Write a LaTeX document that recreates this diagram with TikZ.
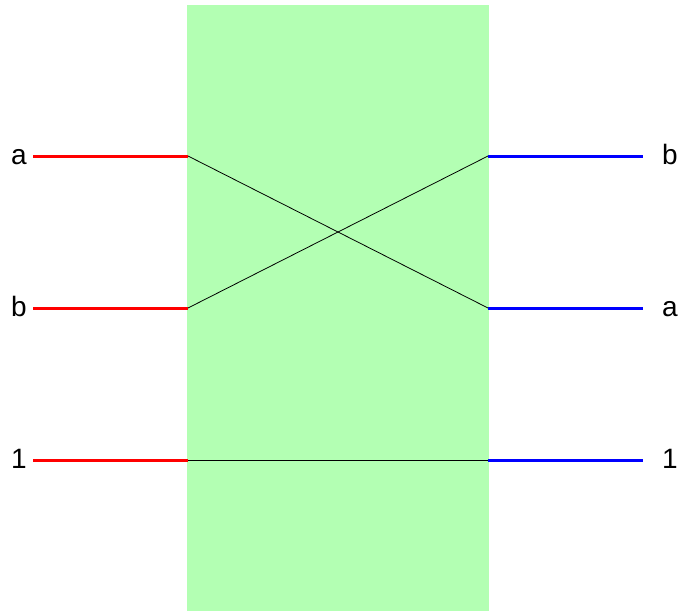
\documentclass[tikz,border=0pt]{standalone}
\usepackage{fontspec}
\setmainfont{Liberation Sans}
\definecolor{boxgreen}{RGB}{179,255,179}
\begin{document}
\begin{tikzpicture}[x=1pt,y=-1pt,
  lbl/.style={inner sep=0pt,anchor=base,yshift=-8.5pt,font=\fontsize{28}{30}\selectfont},
  inwire/.style={red,line width=3pt},
  outwire/.style={blue,line width=3pt},
  cross/.style={black,line width=0.8pt}]
\useasboundingbox (0,0) rectangle (679,611);
\fill[boxgreen] (187,4.5) rectangle (489,611);
% ports
\coordinate (la) at (188,156);
\coordinate (lb) at (188,308);
\coordinate (l1) at (188,460);
\coordinate (rb) at (488,156);
\coordinate (ra) at (488,308);
\coordinate (r1) at (488,460);
\node[lbl] (ta) at (19,156) {a};
\node[lbl] (tb) at (19,308) {b};
\node[lbl] (t1) at (19,460) {1};
\node[lbl] (ub) at (670,156) {b};
\node[lbl] (ua) at (670,308) {a};
\node[lbl] (u1) at (670,460) {1};
\coordinate (sa) at (33,156);
\coordinate (sb) at (33,308);
\coordinate (s1) at (33,460);
\coordinate (eb) at (643,156);
\coordinate (ea) at (643,308);
\coordinate (e1) at (643,460);
\draw[inwire] (sa) -- (la);
\draw[inwire] (sb) -- (lb);
\draw[inwire] (s1) -- (l1);
\draw[outwire] (rb) -- (eb);
\draw[outwire] (ra) -- (ea);
\draw[outwire] (r1) -- (e1);
\draw[cross] (la) -- (ra);
\draw[cross] (lb) -- (rb);
\draw[cross] (l1) -- (r1);
\end{tikzpicture}
\end{document}
